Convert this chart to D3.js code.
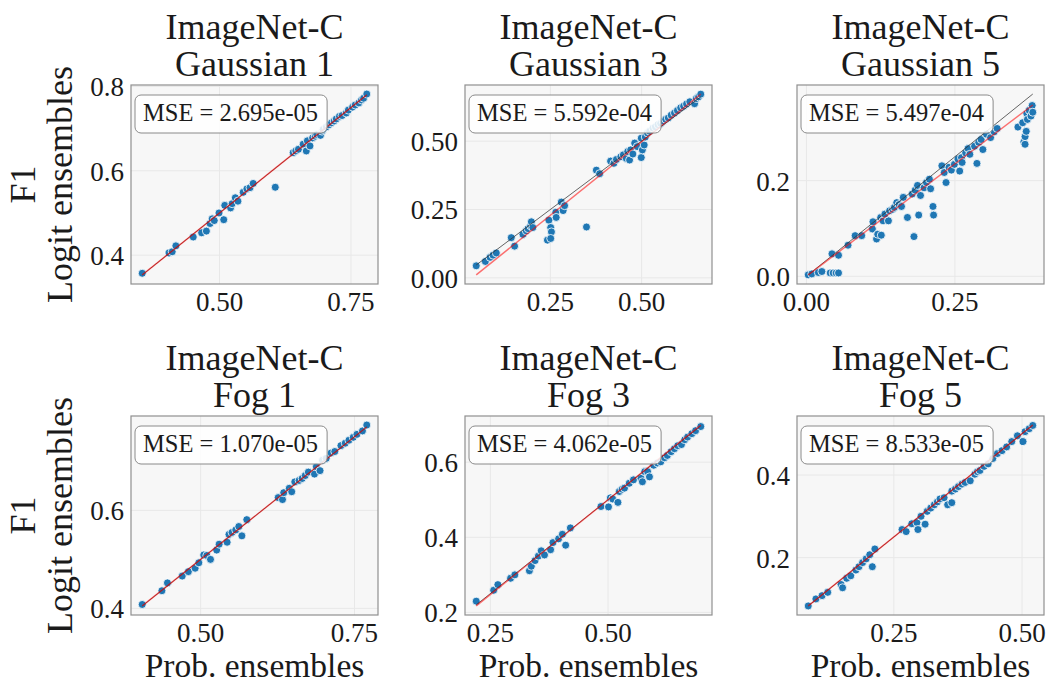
<!DOCTYPE html>
<html><head><meta charset="utf-8">
<script src="https://cdn.jsdelivr.net/npm/d3@7"></script>
<style>body{margin:0;background:#fff} svg{display:block}</style>
</head><body>
<svg id="c" width="1052" height="685"></svg>
<script>
// ---------------- DATA ----------------
const datasetName = "ImageNet-C";
const panelTitles = ["Gaussian 1", "Gaussian 3", "Gaussian 5", "Fog 1", "Fog 3", "Fog 5"];
const mseLabels = ["2.695e-05", "5.592e-04", "5.497e-04", "1.070e-05", "4.062e-05", "8.533e-05"];
const xTickLabels = [["0.50","0.75"], ["0.25","0.50"], ["0.00","0.25"], ["0.50","0.75"], ["0.25","0.50"], ["0.25","0.50"]];
const yTickLabels = [["0.4","0.6","0.8"], ["0.00","0.25","0.50"], ["0.0","0.2"], ["0.4","0.6"], ["0.2","0.4","0.6"], ["0.2","0.4"]];
const xAxisLabel = "Prob. ensembles";
const yAxisLabel1 = "F1";
const yAxisLabel2 = "Logit ensembles";
// fitted (red) line: slope, intercept
const fitSlope = [1.0, 1.076, 0.94, 1.0, 1.01, 1.0];
const fitIntercept = [0.0, -0.040, 0.0, 0.0, -0.005, 0.0];

const pointsGaussian1 = [[0.353,0.357],[0.404,0.405],[0.410,0.408],[0.417,0.422],[0.450,0.443],[0.466,0.453],[0.475,0.457],[0.482,0.475],[0.486,0.486],[0.490,0.482],[0.499,0.500],[0.508,0.484],[0.510,0.518],[0.521,0.512],[0.524,0.522],[0.530,0.536],[0.535,0.528],[0.545,0.549],[0.552,0.557],[0.558,0.560],[0.564,0.570],[0.606,0.561],[0.640,0.643],[0.645,0.647],[0.650,0.651],[0.659,0.663],[0.665,0.647],[0.667,0.671],[0.672,0.659],[0.677,0.678],[0.682,0.682],[0.685,0.686],[0.692,0.684],[0.695,0.694],[0.697,0.698],[0.703,0.704],[0.708,0.709],[0.713,0.714],[0.718,0.718],[0.722,0.723],[0.728,0.729],[0.733,0.731],[0.741,0.737],[0.745,0.744],[0.753,0.751],[0.758,0.756],[0.765,0.761],[0.770,0.768],[0.774,0.772],[0.780,0.782]];
const pointsGaussian3 = [[0.047,0.044],[0.072,0.060],[0.085,0.075],[0.093,0.083],[0.102,0.091],[0.143,0.147],[0.152,0.116],[0.175,0.159],[0.184,0.172],[0.189,0.180],[0.196,0.190],[0.198,0.205],[0.202,0.184],[0.242,0.138],[0.246,0.211],[0.251,0.184],[0.253,0.168],[0.251,0.144],[0.265,0.240],[0.266,0.221],[0.280,0.277],[0.285,0.246],[0.289,0.264],[0.349,0.186],[0.376,0.394],[0.385,0.381],[0.415,0.427],[0.424,0.419],[0.431,0.433],[0.443,0.443],[0.450,0.450],[0.458,0.437],[0.462,0.462],[0.467,0.431],[0.470,0.468],[0.476,0.453],[0.481,0.493],[0.488,0.480],[0.499,0.440],[0.502,0.468],[0.507,0.486],[0.499,0.511],[0.510,0.515],[0.516,0.530],[0.522,0.536],[0.531,0.548],[0.538,0.552],[0.545,0.560],[0.552,0.565],[0.559,0.573],[0.566,0.580],[0.573,0.585],[0.581,0.595],[0.590,0.603],[0.598,0.612],[0.607,0.622],[0.615,0.628],[0.623,0.636],[0.632,0.644],[0.645,0.637],[0.650,0.656],[0.656,0.662],[0.662,0.672]];
const pointsGaussian5 = [[0.003,0.003],[0.009,0.005],[0.020,0.008],[0.026,0.010],[0.040,0.007],[0.045,0.007],[0.050,0.007],[0.054,0.007],[0.043,0.047],[0.054,0.044],[0.070,0.065],[0.082,0.085],[0.093,0.085],[0.111,0.099],[0.112,0.114],[0.118,0.078],[0.120,0.088],[0.126,0.086],[0.125,0.123],[0.129,0.116],[0.138,0.116],[0.132,0.130],[0.140,0.137],[0.145,0.140],[0.148,0.144],[0.152,0.154],[0.156,0.150],[0.160,0.146],[0.163,0.165],[0.170,0.123],[0.181,0.083],[0.178,0.172],[0.183,0.180],[0.187,0.190],[0.189,0.128],[0.192,0.169],[0.198,0.185],[0.202,0.196],[0.207,0.203],[0.209,0.183],[0.213,0.146],[0.214,0.128],[0.228,0.231],[0.232,0.217],[0.235,0.196],[0.240,0.228],[0.244,0.222],[0.249,0.234],[0.255,0.245],[0.258,0.220],[0.261,0.248],[0.262,0.238],[0.268,0.258],[0.272,0.267],[0.275,0.255],[0.283,0.272],[0.287,0.236],[0.290,0.280],[0.294,0.286],[0.297,0.265],[0.303,0.297],[0.310,0.290],[0.316,0.302],[0.321,0.309],[0.356,0.312],[0.364,0.321],[0.366,0.281],[0.368,0.276],[0.368,0.292],[0.370,0.303],[0.371,0.340],[0.372,0.328],[0.375,0.347],[0.378,0.335],[0.380,0.357],[0.381,0.343]];
const pointsFog1 = [[0.405,0.408],[0.437,0.436],[0.446,0.452],[0.470,0.466],[0.480,0.475],[0.491,0.482],[0.497,0.493],[0.505,0.509],[0.510,0.508],[0.516,0.500],[0.526,0.519],[0.530,0.531],[0.543,0.535],[0.546,0.551],[0.551,0.555],[0.557,0.560],[0.562,0.567],[0.567,0.548],[0.575,0.581],[0.626,0.626],[0.633,0.622],[0.635,0.636],[0.644,0.645],[0.648,0.638],[0.653,0.658],[0.660,0.661],[0.665,0.665],[0.670,0.671],[0.675,0.678],[0.685,0.674],[0.688,0.689],[0.694,0.681],[0.698,0.702],[0.704,0.706],[0.712,0.717],[0.718,0.720],[0.728,0.732],[0.735,0.737],[0.741,0.743],[0.748,0.749],[0.754,0.755],[0.763,0.762],[0.770,0.774]];
const pointsFog3 = [[0.220,0.230],[0.257,0.259],[0.266,0.274],[0.293,0.291],[0.302,0.300],[0.333,0.311],[0.337,0.323],[0.345,0.338],[0.352,0.350],[0.358,0.364],[0.365,0.353],[0.378,0.367],[0.383,0.386],[0.395,0.396],[0.403,0.408],[0.410,0.379],[0.420,0.425],[0.485,0.482],[0.501,0.481],[0.505,0.505],[0.510,0.502],[0.521,0.493],[0.524,0.522],[0.530,0.528],[0.535,0.531],[0.545,0.544],[0.554,0.553],[0.570,0.557],[0.573,0.548],[0.578,0.575],[0.584,0.575],[0.588,0.561],[0.597,0.592],[0.605,0.598],[0.612,0.601],[0.620,0.612],[0.626,0.618],[0.634,0.628],[0.641,0.636],[0.648,0.644],[0.656,0.647],[0.663,0.660],[0.669,0.667],[0.678,0.676],[0.686,0.684],[0.697,0.695]];
const pointsFog5 = [[0.083,0.083],[0.098,0.100],[0.110,0.108],[0.121,0.116],[0.147,0.135],[0.150,0.127],[0.158,0.150],[0.166,0.156],[0.176,0.170],[0.182,0.178],[0.189,0.188],[0.196,0.197],[0.203,0.207],[0.208,0.178],[0.213,0.221],[0.266,0.268],[0.274,0.263],[0.285,0.282],[0.295,0.285],[0.297,0.268],[0.303,0.300],[0.311,0.281],[0.315,0.312],[0.322,0.320],[0.329,0.328],[0.335,0.335],[0.340,0.342],[0.348,0.345],[0.355,0.328],[0.363,0.333],[0.363,0.361],[0.370,0.366],[0.376,0.372],[0.383,0.378],[0.389,0.382],[0.399,0.386],[0.408,0.402],[0.413,0.408],[0.418,0.411],[0.426,0.421],[0.434,0.427],[0.443,0.440],[0.452,0.452],[0.461,0.459],[0.470,0.468],[0.480,0.481],[0.491,0.495],[0.502,0.481],[0.506,0.505],[0.514,0.512],[0.521,0.520]];
const allPoints = [pointsGaussian1, pointsGaussian3, pointsGaussian5, pointsFog1, pointsFog3, pointsFog5];

// ---------------- LAYOUT ----------------
const colLeft = [131, 465, 797];
const rowTop = [85, 416];
const panelW = 247, panelH = 199;
const FONT = "'Liberation Serif', 'Times New Roman', serif";
const TXT = "#1a1a1a";

const svg = d3.select("#c");

allPoints.forEach((pts, i) => {
  const col = i % 3, row = Math.floor(i / 3);
  const L = colLeft[col], T = rowTop[row];
  const xs = pts.map(d => d[0]);
  const xmin = d3.min(xs), xmax = d3.max(xs);
  const fy = v => fitSlope[i] * v + fitIntercept[i];
  const yvals = pts.map(d => d[1]).concat([xmin, xmax, fy(xmin), fy(xmax)]);
  const ymin = d3.min(yvals), ymax = d3.max(yvals);
  const xpad = 0.05 * (xmax - xmin), ypad = 0.05 * (ymax - ymin);
  const x = d3.scaleLinear().domain([xmin - xpad, xmax + xpad]).range([L, L + panelW]);
  const y = d3.scaleLinear().domain([ymin - ypad, ymax + ypad]).range([T + panelH, T]);

  const g = svg.append("g");
  g.append("rect").attr("x", L).attr("y", T).attr("width", panelW).attr("height", panelH)
    .attr("fill", "#f7f7f7");

  const xt = xTickLabels[i].map(Number), yt = yTickLabels[i].map(Number);
  // grid
  g.selectAll(".gx").data(xt).enter().append("line")
    .attr("x1", d => x(d)).attr("x2", d => x(d)).attr("y1", T).attr("y2", T + panelH)
    .attr("stroke", "#e8e8e8").attr("stroke-width", 1);
  g.selectAll(".gy").data(yt).enter().append("line")
    .attr("y1", d => y(d)).attr("y2", d => y(d)).attr("x1", L).attr("x2", L + panelW)
    .attr("stroke", "#e8e8e8").attr("stroke-width", 1);

  // points
  g.selectAll(".pt").data(pts).enter().append("circle")
    .attr("cx", d => x(d[0])).attr("cy", d => y(d[1])).attr("r", 4)
    .attr("fill", "#1f77b4").attr("stroke", "#ffffff").attr("stroke-width", 0.8);

  // identity line
  g.append("line").attr("x1", x(xmin)).attr("y1", y(xmin)).attr("x2", x(xmax)).attr("y2", y(xmax))
    .attr("stroke", "#333").attr("stroke-opacity", 0.75).attr("stroke-width", 1);
  // fitted line
  g.append("line").attr("x1", x(xmin)).attr("y1", y(fy(xmin))).attr("x2", x(xmax)).attr("y2", y(fy(xmax)))
    .attr("stroke", "#ff0000").attr("stroke-opacity", 0.55).attr("stroke-width", 1.5);

  // frame
  g.append("rect").attr("x", L).attr("y", T).attr("width", panelW).attr("height", panelH)
    .attr("fill", "none").attr("stroke", "#8f8f8f").attr("stroke-width", 1.2);

  // tick labels
  g.selectAll(".xl").data(xTickLabels[i]).enter().append("text")
    .attr("x", d => x(+d)).attr("y", T + panelH + 27)
    .attr("text-anchor", "middle").attr("font-family", FONT).attr("font-size", 27)
    .attr("fill", TXT).text(d => d);
  g.selectAll(".yl").data(yTickLabels[i]).enter().append("text")
    .attr("x", L - 7).attr("y", d => y(+d) + 10)
    .attr("text-anchor", "end").attr("font-family", FONT).attr("font-size", 27)
    .attr("fill", TXT).text(d => d);

  // title
  const cx = L + panelW / 2;
  g.append("text").attr("x", cx).attr("y", T - 46).attr("text-anchor", "middle")
    .attr("font-family", FONT).attr("font-size", 36).attr("fill", TXT).text(datasetName);
  g.append("text").attr("x", cx).attr("y", T - 9).attr("text-anchor", "middle")
    .attr("font-family", FONT).attr("font-size", 36).attr("fill", TXT).text(panelTitles[i]);

  // MSE box
  const tx = L + 12, ty = T + 36;
  const t = g.append("text").attr("x", tx).attr("y", ty)
    .attr("font-family", FONT).attr("font-size", 24.5).attr("fill", TXT)
    .text("MSE = " + mseLabels[i]);
  const tw = t.node().getComputedTextLength();
  g.append("rect")
    .attr("x", tx - 8).attr("y", T + 10).attr("width", tw + 17).attr("height", 38)
    .attr("rx", 6).attr("ry", 6)
    .attr("fill", "#ffffff").attr("fill-opacity", 0.85).attr("stroke", "#8a8a8a").attr("stroke-width", 1);
  t.raise();

  // axis labels
  if (row === 1) {
    g.append("text").attr("x", cx).attr("y", 677).attr("text-anchor", "middle")
      .attr("font-family", FONT).attr("font-size", 33.5).attr("fill", TXT).text(xAxisLabel);
  }
  if (col === 0) {
    const cy = T + panelH / 2;
    g.append("text").attr("transform", `translate(35,${cy}) rotate(-90)`).attr("text-anchor", "middle")
      .attr("font-family", FONT).attr("font-size", 36).attr("fill", TXT).text(yAxisLabel1);
    g.append("text").attr("transform", `translate(72,${cy}) rotate(-90)`).attr("text-anchor", "middle")
      .attr("font-family", FONT).attr("font-size", 36).attr("fill", TXT).text(yAxisLabel2);
  }
});
</script>
</body></html>
